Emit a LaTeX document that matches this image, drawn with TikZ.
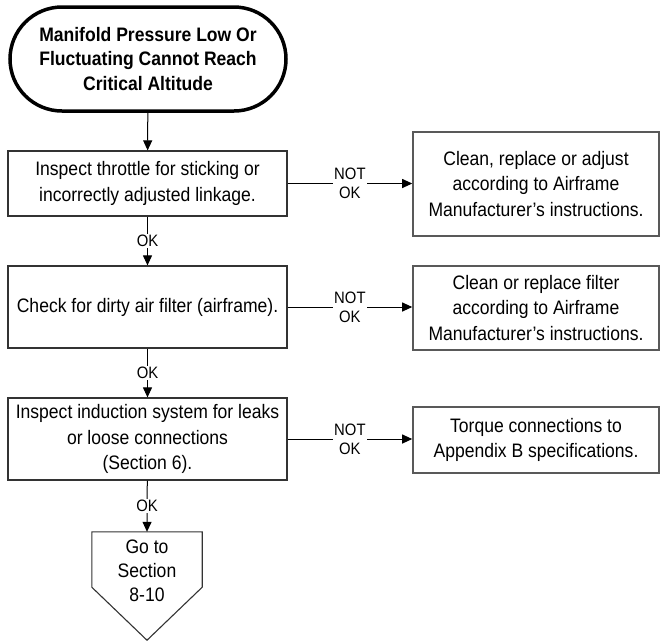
\documentclass[tikz,border=0pt]{standalone}
\usepackage{fontspec}
\setmainfont{Liberation Sans}[FakeStretch=0.9]
\usetikzlibrary{arrows.meta,calc}
\tikzset{
  mainfont/.style={font=\fontsize{19.5}{25.5}\selectfont},
  lbox/.style={draw=black!80, line width=1.2pt, rectangle, align=center, mainfont,
    minimum width=279pt, inner sep=0pt},
  rbox/.style={draw=black!65, line width=1.6pt, rectangle, align=center, mainfont,
    minimum width=246pt, inner sep=0pt},
  term/.style={draw=black, line width=3.5pt, rounded corners=52pt, align=center,
    font=\fontsize{19.5}{24.5}\selectfont\bfseries, minimum width=276pt,
    minimum height=104pt, inner sep=0pt},
  conn/.style={draw=black, line width=1pt, -{Triangle[length=10pt,width=9pt]}},
  lab/.style={fill=white, inner sep=1pt, align=center,
    font=\fontsize{16.5}{19}\selectfont},
}
\begin{document}
\begin{tikzpicture}[x=1pt,y=-1pt]
\useasboundingbox (0,0) rectangle (660,641);
\node[term] (start) at (148,59) {Manifold Pressure Low Or\\Fluctuating Cannot Reach\\Critical Altitude};
\node[lbox, minimum height=65pt] (b1) at (147.5,183.5) {Inspect throttle for sticking or\\incorrectly adjusted linkage.};
\node[lbox, minimum height=82pt] (b2) at (147.5,307) {Check for dirty air filter (airframe).};
\node[lbox, minimum height=82pt] (b3) at (147.5,439) {Inspect induction system for leaks\\or loose connections\\(Section 6).};
\node[rbox, minimum height=104pt] (r1) at (536,184) {Clean, replace or adjust\\according to Airframe\\Manufacturer’s instructions.};
\node[rbox, minimum height=84pt] (r2) at (536,308) {Clean or replace filter\\according to Airframe\\Manufacturer’s instructions.};
\node[rbox, minimum height=66pt] (r3) at (536,440) {Torque connections to\\Appendix B specifications.};
\node[minimum width=110pt, minimum height=55pt, inner sep=0pt] (goto) at (147,559.5) {};
\node[align=center, inner sep=0pt, font=\fontsize{19.5}{24}\selectfont] (gototext) at (147,571) {Go to\\Section\\8-10};
\draw[black!80, line width=1.1pt] (goto.north west) -- (goto.north east) -- (goto.south east)
  -- ($(goto.south)+(0,53)$) -- (goto.south west) -- cycle;
\draw[conn] (start) -- (b1);
\draw[conn] (b1) -- node[lab]{OK} (b2);
\draw[conn] (b2) -- node[lab]{OK} (b3);
\draw[conn] (b3) -- node[lab]{OK} (goto.north);
\draw[conn] (b1.east) -- node[lab]{NOT\\OK} (b1.east -| r1.west);
\draw[conn] (b2.east) -- node[lab]{NOT\\OK} (b2.east -| r2.west);
\draw[conn] (b3.east) -- node[lab]{NOT\\OK} (b3.east -| r3.west);
\end{tikzpicture}
\end{document}
